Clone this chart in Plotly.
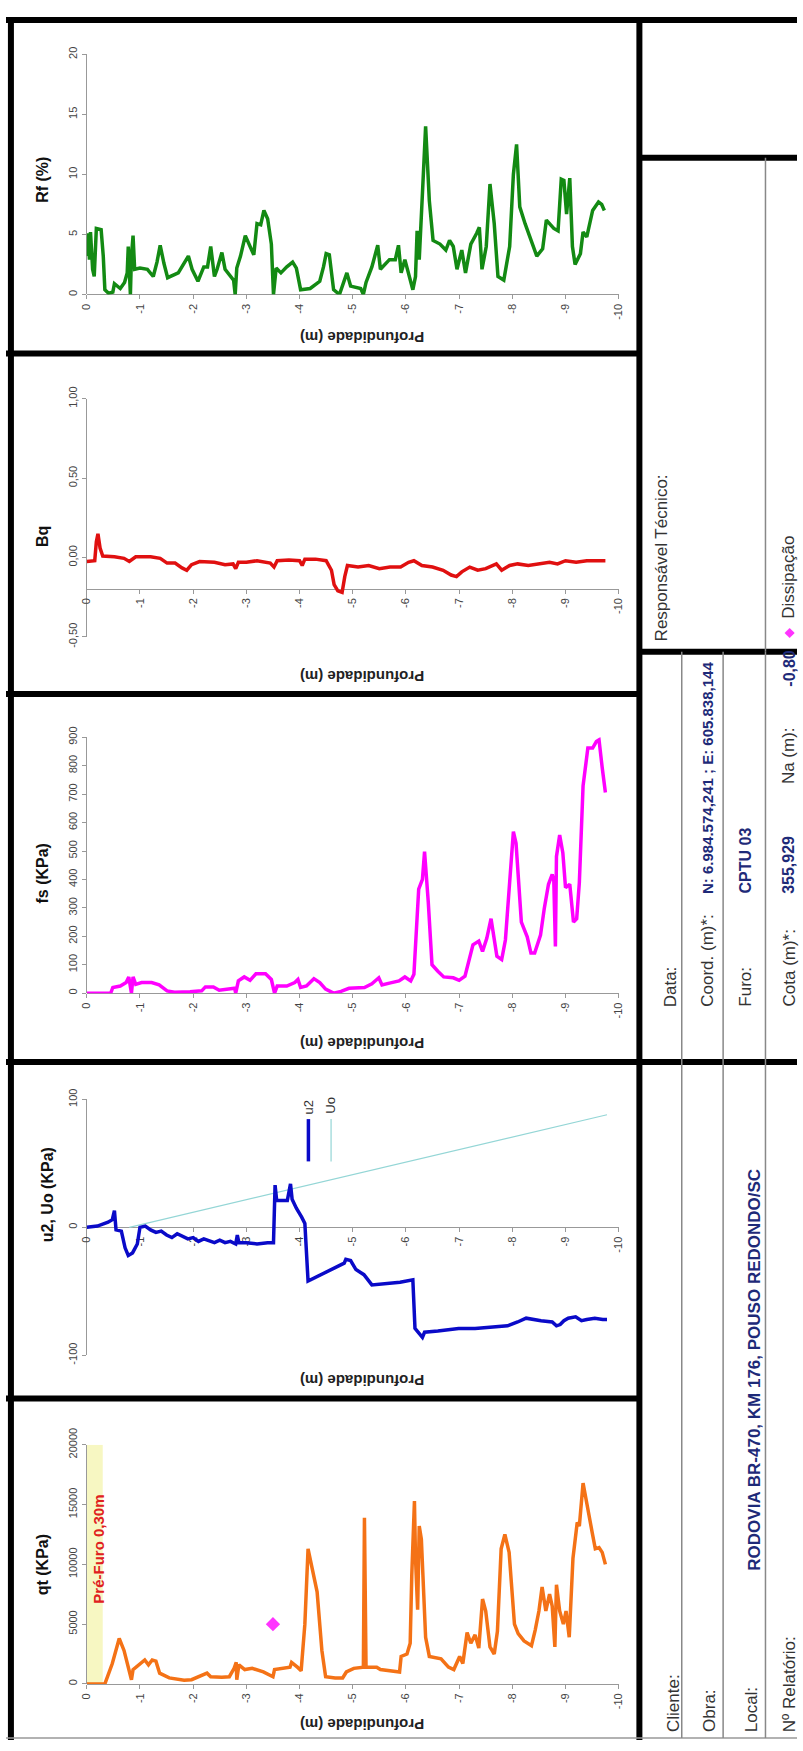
import plotly.graph_objects as go

W, H = 803, 1751


def px(x):
    return x / W


def py(y):
    return 1 - y / H


# ---------------- data ----------------
depth_ticks = [0, -1, -2, -3, -4, -5, -6, -7, -8, -9, -10]
depth_labels = ["0", "-1", "-2", "-3", "-4", "-5", "-6", "-7", "-8", "-9", "-10"]

# qt (kPa)
qt_prof = [0, 0.30, 0.34, 0.48, 0.55, 0.61, 0.70, 0.77, 0.84, 0.87,
           0.98, 1.09, 1.16, 1.23, 1.30, 1.37, 1.55, 1.83, 1.97, 2.11,
           2.26, 2.33, 2.54, 2.68, 2.77, 2.81, 2.82, 2.86, 2.97, 3.11,
           3.32, 3.50, 3.53, 3.82, 3.85, 3.96, 4.03, 4.10, 4.16, 4.24,
           4.33, 4.42, 4.49, 4.67, 4.81, 4.88, 5.02, 5.20, 5.22, 5.25,
           5.45, 5.52, 5.88, 5.91, 6.02, 6.08, 6.11, 6.16, 6.18, 6.22,
           6.25, 6.29, 6.37, 6.44, 6.66, 6.80, 6.90, 7.01, 7.07, 7.15,
           7.22, 7.30, 7.37, 7.44, 7.50, 7.58, 7.66, 7.72, 7.79, 7.86,
           7.94, 8.04, 8.11, 8.22, 8.36, 8.43, 8.50, 8.56, 8.63, 8.70,
           8.75, 8.80, 8.83, 8.89, 8.96, 9.01, 9.07, 9.14, 9.22, 9.26,
           9.33, 9.50, 9.56, 9.63, 9.69, 9.75]
qt_val = [0, 0, 0, 1700, 2800, 3800, 2800, 1700, 350, 1200,
          1600, 2000, 1600, 2000, 1900, 900, 500, 300, 350, 600,
          900, 600, 550, 600, 1300, 1800, 350, 1600, 1200, 1300,
          1000, 600, 1200, 1400, 1800, 1400, 1100, 5000, 11300, 9600,
          7700, 2800, 600, 500, 500, 1000, 1300, 1400, 13900, 1400,
          1400, 1200, 1000, 2300, 2500, 3400, 9100, 15300, 10500, 6200,
          13200, 12100, 3900, 2300, 2100, 1400, 1200, 2300, 1700, 4300,
          3400, 4100, 3000, 7100, 6100, 3100, 2500, 4400, 11300, 12500,
          11000, 5000, 4200, 3600, 3200, 4500, 6100, 8100, 6100, 7500,
          6500, 3100, 8300, 6100, 5000, 6100, 3900, 10500, 13500, 13200,
          16800, 12700, 11300, 11400, 11000, 10000]

# dissipation test point
diss_prof = [3.50]
diss_qt = [5000]

# u2 (kPa)
u2_prof = [0, 0.20, 0.40, 0.48, 0.52, 0.55, 0.65, 0.72, 0.78, 0.86,
           0.95, 1.00, 1.10, 1.20, 1.30, 1.40, 1.50, 1.60, 1.70, 1.80,
           1.90, 2.00, 2.10, 2.20, 2.40, 2.50, 2.60, 2.70, 2.80, 2.83,
           2.86, 3.00, 3.20, 3.40, 3.51, 3.54, 3.57, 3.77, 3.83, 3.86,
           3.94, 4.04, 4.10, 4.16, 4.35, 4.59, 4.84, 4.87, 4.96, 5.06,
           5.21, 5.36, 5.58, 5.89, 6.13, 6.15, 6.17, 6.31, 6.35, 6.60,
           6.99, 7.30, 7.69, 7.91, 8.10, 8.26, 8.54, 8.75, 8.83, 8.90,
           8.97, 9.05, 9.19, 9.30, 9.40, 9.55, 9.70, 9.78]
u2_val = [0, 1, 4, 6, 13, -2, -3, -16, -22, -20,
          -13, 0, 1, -2, -4, -3, -6, -8, -5, -7,
          -9, -8, -11, -9, -12, -10, -12, -11, -13, -6,
          -12, -12, -13, -12, -12, 33, 21, 21, 34, 22,
          15, 8, 3, -42, -38, -33, -28, -25, -26, -33,
          -37, -45, -44, -43, -41, -60, -79, -86, -82, -81,
          -79, -79, -78, -77, -74, -71, -73, -74, -77, -76,
          -73, -71, -70, -73, -72, -71, -72, -72]

# Uo hydrostatic line (water level at -0,80 m)
uo_prof = [0.80, 9.78]
uo_val = [0, 88]

# fs (kPa)
fs_prof = [0, 0.45, 0.49, 0.63, 0.74, 0.79, 0.84, 0.87, 0.92, 1.03,
           1.22, 1.36, 1.51, 1.65, 1.94, 2.16, 2.23, 2.38, 2.49, 2.67,
           2.78, 2.80, 2.85, 2.96, 3.07, 3.18, 3.36, 3.47, 3.53, 3.58,
           3.76, 3.91, 3.97, 4.02, 4.13, 4.27, 4.38, 4.49, 4.64, 4.78,
           4.93, 5.22, 5.36, 5.49, 5.55, 5.73, 5.87, 5.98, 6.09, 6.15,
           6.24, 6.31, 6.35, 6.42, 6.49, 6.60, 6.71, 6.89, 7.00, 7.11,
           7.26, 7.37, 7.44, 7.52, 7.60, 7.71, 7.80, 7.87, 7.95, 8.02,
           8.07, 8.17, 8.28, 8.35, 8.42, 8.53, 8.60, 8.68, 8.75, 8.78,
           8.81, 8.83, 8.89, 8.95, 9.00, 9.08, 9.15, 9.21, 9.26, 9.33,
           9.42, 9.51, 9.58, 9.63, 9.69, 9.75]
fs_val = [0, 0, 20, 25, 37, 57, 0, 57, 31, 37,
          37, 29, 8, 3, 5, 8, 22, 22, 10, 14,
          17, 0, 43, 57, 45, 68, 68, 48, 0, 25,
          25, 37, 48, 20, 25, 51, 37, 14, 0, 6,
          17, 20, 33, 54, 29, 37, 43, 57, 43, 66,
          366, 400, 498, 320, 100, 77, 57, 54, 45, 60,
          170, 183, 147, 193, 262, 130, 118, 187, 389, 568,
          527, 250, 198, 141, 141, 204, 297, 383, 418, 395,
          164, 481, 556, 493, 371, 383, 250, 262, 389, 729,
          862, 862, 885, 891, 793, 706]

# Bq (-)
bq_prof = [0, 0.15, 0.18, 0.21, 0.25, 0.30, 0.52, 0.70, 0.80, 0.92,
           1.20, 1.38, 1.51, 1.66, 1.79, 1.88, 1.97, 2.12, 2.40, 2.60,
           2.75, 2.80, 2.85, 3.00, 3.20, 3.45, 3.52, 3.58, 3.80, 4.00,
           4.05, 4.10, 4.30, 4.50, 4.60, 4.65, 4.72, 4.80, 4.85, 4.90,
           5.10, 5.30, 5.50, 5.70, 5.90, 6.05, 6.15, 6.30, 6.50, 6.70,
           6.85, 6.95, 7.05, 7.20, 7.35, 7.50, 7.70, 7.80, 7.95, 8.10,
           8.30, 8.50, 8.70, 8.85, 9.00, 9.20, 9.40, 9.60, 9.75]
bq_val = [-0.025, -0.02, 0.10, 0.15, 0.06, 0.01, 0.005, -0.005, -0.025, 0.005,
          0.005, -0.005, -0.035, -0.035, -0.065, -0.08, -0.045, -0.025, -0.03, -0.045,
          -0.04, -0.07, -0.03, -0.03, -0.02, -0.035, -0.06, -0.02, -0.015, -0.02,
          -0.05, -0.01, -0.01, -0.02, -0.08, -0.17, -0.21, -0.22, -0.12, -0.05,
          -0.06, -0.05, -0.07, -0.06, -0.06, -0.03, -0.02, -0.05, -0.06, -0.08,
          -0.11, -0.12, -0.09, -0.06, -0.08, -0.07, -0.04, -0.08, -0.05, -0.04,
          -0.05, -0.04, -0.03, -0.04, -0.02, -0.03, -0.02, -0.02, -0.02]

# Rf (%)
rf_prof = [0, 0.03, 0.05, 0.07, 0.11, 0.14, 0.18, 0.27, 0.31, 0.34,
           0.41, 0.49, 0.52, 0.63, 0.71, 0.76, 0.78, 0.82, 0.84, 0.87,
           0.90, 1.00, 1.14, 1.25, 1.32, 1.38, 1.45, 1.52, 1.72, 1.91,
           1.98, 2.09, 2.20, 2.27, 2.33, 2.40, 2.45, 2.54, 2.60, 2.71,
           2.76, 2.79, 2.82, 2.89, 2.98, 3.07, 3.14, 3.20, 3.27, 3.33,
           3.40, 3.47, 3.51, 3.56, 3.65, 3.76, 3.87, 3.94, 4.02, 4.20,
           4.38, 4.45, 4.50, 4.56, 4.64, 4.75, 4.82, 4.89, 4.96, 5.15,
           5.20, 5.25, 5.36, 5.47, 5.52, 5.69, 5.80, 5.86, 5.91, 5.98,
           6.13, 6.18, 6.21, 6.25, 6.31, 6.37, 6.44, 6.51, 6.64, 6.75,
           6.82, 6.89, 6.96, 7.05, 7.12, 7.22, 7.33, 7.38, 7.43, 7.51,
           7.58, 7.66, 7.73, 7.84, 7.95, 8.02, 8.08, 8.14, 8.24, 8.35,
           8.46, 8.57, 8.64, 8.78, 8.86, 8.92, 8.97, 9.02, 9.08, 9.13,
           9.18, 9.28, 9.33, 9.40, 9.51, 9.62, 9.68, 9.73]
rf_val = [3.2, 5.1, 2.9, 5.2, 2.1, 1.5, 5.5, 5.4, 3.2, 0.4,
          0.1, 0.2, 0.9, 0.5, 1.0, 1.8, 4.0, 0.0, 3.2, 4.9,
          2.1, 2.2, 2.1, 1.5, 2.7, 4.1, 2.6, 1.4, 1.8, 3.2,
          2.1, 1.1, 2.3, 2.3, 4.0, 1.5, 2.1, 3.5, 2.1, 1.5,
          1.2, 0.0, 2.2, 3.2, 4.9, 4.0, 3.3, 5.9, 5.8, 7.0,
          6.3, 4.2, 0.0, 2.2, 1.8, 2.3, 2.7, 2.2, 0.4, 0.5,
          1.1, 2.3, 3.4, 3.3, 0.4, 0.0, 1.0, 1.8, 0.7, 0.5,
          0.0, 1.0, 2.3, 4.1, 2.1, 2.9, 2.9, 4.1, 1.8, 2.9,
          0.4, 1.5, 5.3, 2.9, 8.4, 14.0, 7.8, 4.5, 4.2, 3.7,
          4.5, 4.0, 2.1, 3.7, 1.8, 4.2, 5.1, 5.6, 2.1, 4.0,
          9.2, 5.9, 1.5, 1.2, 4.0, 10.0, 12.5, 7.3, 5.9, 4.5,
          3.2, 3.8, 6.2, 5.5, 5.3, 9.6, 9.5, 6.7, 9.7, 4.0,
          2.5, 3.4, 5.2, 4.8, 7.0, 7.7, 7.5, 7.0]

for a, b in [(qt_prof, qt_val), (u2_prof, u2_val), (fs_prof, fs_val),
             (bq_prof, bq_val), (rf_prof, rf_val)]:
    assert len(a) == len(b), (len(a), len(b))


def neg(seq):
    return [-d for d in seq]


# ---------------- panel geometry (pixels) ----------------
X0, X10 = 82, 622           # depth 0 and depth -10
FONT = "Liberation Sans, Arial, sans-serif"
TICKFONT = dict(family=FONT, size=11, color="#444")
LW = 3.5

panels = {
    # name: (xaxis id, yaxis id, top px, bottom px, range, tickvals, ticktext, depth-axis px)
    "qt": ("x", "y", 1451, 1694, [0, 20000], [0, 5000, 10000, 15000, 20000],
           ["0", "5000", "10000", "15000", "20000"], 1694),
    "u2": ("x2", "y2", 1100, 1360, [-100, 100], [-100, 0, 100],
           ["-100", "0", "100"], 1230),
    "fs": ("x3", "y3", 732, 992, [0, 900], list(range(0, 1000, 100)),
           [str(v) for v in range(0, 1000, 100)], 992),
    "bq": ("x4", "y4", 388, 630, [-0.5, 1.0], [-0.5, 0, 0.5, 1.0],
           ["-0,50", "0,00", "0,50", "1,00"], 581),
    "rf": ("x5", "y5", 38, 282, [0, 20], [0, 5, 10, 15, 20],
           ["0", "5", "10", "15", "20"], 282),
}

layout = dict(
    width=W, height=H, margin=dict(l=0, r=0, t=0, b=0),
    paper_bgcolor="white", plot_bgcolor="rgba(0,0,0,0)",
    showlegend=False, font=dict(family=FONT),
)

for name, (xa, ya, top, bot, rng, tv, tt, axis_px) in panels.items():
    xkey = "xaxis" + xa[1:]
    ykey = "yaxis" + ya[1:]
    layout[xkey] = dict(
        domain=[px(X0), px(X10)], range=[0, -10], anchor="free",
        position=py(axis_px), tickvals=depth_ticks, ticktext=depth_labels,
        tickangle=-90, ticks="outside", ticklen=4, tickcolor="#999",
        showline=True, linecolor="#999", linewidth=1, showgrid=False,
        zeroline=False, tickfont=TICKFONT, layer="below traces",
    )
    layout[ykey] = dict(
        domain=[py(bot), py(top)], range=rng, anchor=xa,
        tickvals=tv, ticktext=tt, tickangle=-90, ticks="outside",
        ticklen=4, tickcolor="#999", showline=True, linecolor="#999",
        linewidth=1, showgrid=False, zeroline=False, tickfont=TICKFONT,
        layer="below traces",
    )

fig = go.Figure()

fig.add_trace(go.Scatter(x=neg(qt_prof), y=qt_val, xaxis="x", yaxis="y",
                         mode="lines", line=dict(color="#f47216", width=LW)))
fig.add_trace(go.Scatter(x=neg(diss_prof), y=diss_qt, xaxis="x", yaxis="y",
                         mode="markers",
                         marker=dict(symbol="diamond", size=11, color="#ff33ff")))
fig.add_trace(go.Scatter(x=neg(uo_prof), y=uo_val, xaxis="x2", yaxis="y2",
                         mode="lines", line=dict(color="#94d6d6", width=1.2)))
fig.add_trace(go.Scatter(x=neg(u2_prof), y=u2_val, xaxis="x2", yaxis="y2",
                         mode="lines", line=dict(color="#0a0ac8", width=LW)))
fig.add_trace(go.Scatter(x=neg(fs_prof), y=fs_val, xaxis="x3", yaxis="y3",
                         mode="lines", line=dict(color="#ff00ff", width=LW)))
fig.add_trace(go.Scatter(x=neg(bq_prof), y=bq_val, xaxis="x4", yaxis="y4",
                         mode="lines", line=dict(color="#e01010", width=LW)))
fig.add_trace(go.Scatter(x=neg(rf_prof), y=rf_val, xaxis="x5", yaxis="y5",
                         mode="lines", line=dict(color="#138a13", width=LW)))

shapes = []
# pre-drilled zone shading on the qt panel
shapes.append(dict(type="rect", xref="x", yref="y", x0=0, x1=-0.30, y0=0, y1=20000,
                   fillcolor="#f7f7c2", line=dict(width=0), layer="below"))


def hline(y, x0, x1, w=6, color="black"):
    shapes.append(dict(type="line", xref="paper", yref="paper",
                       x0=px(x0), x1=px(x1), y0=py(y), y1=py(y),
                       line=dict(color=color, width=w)))


def vline(x, y0, y1, w=6, color="black"):
    shapes.append(dict(type="line", xref="paper", yref="paper",
                       x0=px(x), x1=px(x), y0=py(y0), y1=py(y1),
                       line=dict(color=color, width=w)))


# outer frame and panel separators
vline(5, 0, H)
vline(643, 0, H)
hline(3, 0, W)
hline(1749, 0, W, w=1.5, color="#999")
for yb in [342, 688, 1062, 1404]:
    hline(yb, 0, 643)
# header table (right side)
hline(143, 643, W)
hline(645, 643, W)
hline(1062, 643, W)
vline(771, 143, 645, w=1.5, color="#888")
for xl in [686, 728, 771]:
    vline(xl, 645, 1749, w=1.5, color="#888")

# u2 / Uo legend samples
vline(307, 1120, 1163, w=3.5, color="#0a0ac8")
vline(330, 1120, 1163, w=1.2, color="#94d6d6")

layout["shapes"] = shapes

ann = []


def vtext(text, xc, y, size=15, color="#333", bold=False, yanchor="bottom", angle=-90):
    ann.append(dict(text=("<b>%s</b>" % text) if bold else text,
                    x=px(xc), y=py(y), xref="paper", yref="paper",
                    xanchor="center", yanchor=yanchor, textangle=angle,
                    showarrow=False, font=dict(family=FONT, size=size, color=color)))


# value axis titles
TT = 16
vtext("Rf (%)", 37, 165, size=TT, color="#111", bold=True, yanchor="middle")
vtext("Bq", 37, 528, size=TT, color="#111", bold=True, yanchor="middle")
vtext("fs (KPa)", 37, 870, size=TT, color="#111", bold=True, yanchor="middle")
vtext("u2, Uo (KPa)", 42, 1197, size=TT, color="#111", bold=True, yanchor="middle")
vtext("qt (KPa)", 37, 1573, size=TT, color="#111", bold=True, yanchor="middle")

# depth axis titles (upside down)
for yt in [325, 670, 1043, 1385, 1735]:
    vtext("Profundidade (m)", 362, yt, size=15, color="#222", bold=True,
          yanchor="middle", angle=180)

# pre-drilling label
vtext("Pré-Furo 0,30m", 94, 1557, size=15, color="#e02020", bold=True, yanchor="middle")

# legend labels
vtext("u2", 307, 1117, size=13, color="#333")
vtext("Uo", 330, 1117, size=13, color="#333")

# header table
NAVY = "#1e2a78"
LAB = 17
VAL = 16
vtext("Responsável Técnico:", 665, 637, size=LAB)
vtext("◆", 795, 626, size=13, color="#ff33ff", yanchor="middle")
vtext("Dissipação", 795, 614, size=LAB)

vtext("Data:", 674, 1008, size=LAB)
vtext("Coord. (m)*:", 712, 1008, size=LAB)
vtext("N: 6.984.574,241 ; E: 605.838,144", 712, 893, size=15, color=NAVY, bold=True)
vtext("Furo:", 751, 1008, size=LAB)
vtext("CPTU 03", 751, 893, size=VAL, color=NAVY, bold=True)
vtext("Cota (m)*:", 795, 1008, size=LAB)
vtext("355,929", 795, 893, size=VAL, color=NAVY, bold=True)
vtext("Na (m):", 795, 782, size=LAB)
vtext("-0,80", 795, 683, size=VAL, color=NAVY, bold=True)

vtext("Cliente:", 677, 1745, size=LAB)
vtext("Obra:", 714, 1745, size=LAB)
vtext("Local:", 757, 1745, size=LAB)
vtext("RODOVIA BR-470, KM 176, POUSO REDONDO/SC", 759, 1375, size=17,
      color=NAVY, bold=True, yanchor="middle")
vtext("Nº Relatório:", 795, 1745, size=LAB)

layout["annotations"] = ann

fig.update_layout(**layout)
fig.write_html("out.html")
